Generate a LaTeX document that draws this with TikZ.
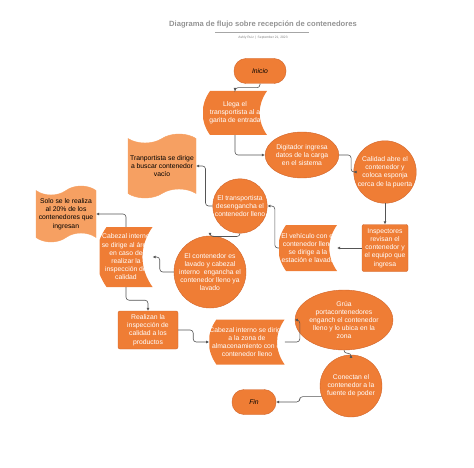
\documentclass[tikz,border=0pt]{standalone}
\usepackage{fontspec}
\setmainfont{Liberation Sans}
\usetikzlibrary{shapes.geometric,shapes.symbols,arrows.meta}
\definecolor{naranja}{HTML}{EF7D35}
\definecolor{naranjaborde}{HTML}{D0642A}
\definecolor{naranjaclaro}{HTML}{F6A062}
\definecolor{gris}{HTML}{555555}
\tikzset{
  texto/.style={align=center, font=\fontsize{6.8}{8.2}\selectfont, inner sep=0pt},
  caja/.style={texto, draw=naranjaborde, fill=naranja, text=white},
  extremo/.style={caja, rounded corners=12pt, text=black, font=\fontsize{6.8}{8}\selectfont\itshape, minimum height=25pt},
  bloque/.style={caja, rounded corners=2pt},
  elipse/.style={caja, ellipse},
  circulo/.style={caja, circle},
  almacen/.style={texto, text=white, path picture={
      \fill[naranja] ([xshift=7pt]path picture bounding box.north west)
        -- (path picture bounding box.north east)
        to[bend right=35] (path picture bounding box.south east)
        -- ([xshift=7pt]path picture bounding box.south west)
        to[bend left=35] cycle;}},
  bandera/.style={texto, tape, tape bend top=in and out, tape bend bottom=in and out,
      tape bend height=9pt, draw=naranjaclaro, fill=naranjaclaro, text=black},
  flecha/.style={draw=gris, line width=0.6pt, rounded corners=3pt, -{Latex[length=3pt,width=3pt]}}
}
\begin{document}
\begin{tikzpicture}[x=1pt, y=-1pt]
  \useasboundingbox (0,0) rectangle (474,468);
  % titulo
  \node (titulo) at (263,25) {\fontsize{7.6}{8}\selectfont\bfseries\color{gray!85}Diagrama de flujo sobre recepción de contenedores};
  \draw[gray!70, line width=0.4pt] (215,32.5) -- (309,32.5);
  \node (autor) at (263,37.5) {\fontsize{3.3}{4}\selectfont\color{gray}Ashly Ruiz \,|\, September 21, 2023};

  % nodos
  \node[extremo, minimum width=52pt] (inicio) at (260,71) {Inicio};
  \node[almacen, minimum width=64pt, minimum height=44pt] (llega) at (235,113) {Llega el\\transportista al a\\garita de entrada};
  \node[elipse, minimum width=60pt, minimum height=46pt] (digitador) at (302,155) {Digitador ingresa\\datos de la carga\\en el sistema};
  \node[circulo, minimum size=60pt] (calidad) at (385,172) {Calidad abre el\\contenedor y\\coloca esponja\\cerca de la puerta};
  \node[bloque, minimum width=46pt, minimum height=47pt] (inspectores) at (385,248) {Inspectores\\revisan el\\contenedor y\\el equipo que\\ingresa};
  \node[almacen, minimum width=58pt, minimum height=46pt] (vehiculo) at (308,248) {El vehículo con el\\contenedor lleno\\se dirige a la\\estación e lavado};
  \node[circulo, minimum size=54pt] (desengancha) at (240,206) {El transportista\\desengancha el\\contenedor lleno};
  \node[bandera, minimum width=68pt, minimum height=64pt] (vacio) at (162,166) {Tranportista se dirige\\a buscar contenedor\\vacío};
  \node[circulo, minimum size=66pt] (lavado) at (210,272) {El contenedor es\\lavado y cabezal\\interno\ \ engancha el\\contenedor lleno ya\\lavado};
  \node[almacen, minimum width=53pt, minimum height=60pt] (cabezalarea) at (126,257) {Cabezal interno\\se dirige al área\\en caso de\\realizar la\\inspección de\\calidad};
  \node[bandera, minimum width=60pt, minimum height=56pt] (solo) at (66,214) {Solo se le realiza\\al 20\% de los\\contenedores que\\ingresan};
  \node[bloque, minimum width=60pt, minimum height=38pt] (realizan) at (148,330) {Realizan la\\inspección de\\calidad a los\\productos};
  \node[almacen, minimum width=74pt, minimum height=45pt] (cabezalzona) at (247,342) {Cabezal interno se dirige\\a la zona de\\almacenamiento con el\\contenedor lleno};
  \node[elipse, minimum width=72pt, minimum height=60pt] (grua) at (344,320) {Grúa\\portacontenedores\\enganch el contenedor\\lleno y lo ubica en la\\zona};
  \node[circulo, minimum size=62pt] (conectan) at (351,386) {Conectan el\\contenedor a la\\fuente de poder};
  \node[extremo, minimum width=44pt] (fin) at (254,402) {Fin};

  % conectores
  \draw[flecha] (inicio.south) -- ++(0,4) -| (llega.north);
  \draw[flecha] (llega.south) |- (digitador.west);
  \draw[flecha] (digitador.east) -- ++(12,0) |- (calidad.west);
  \draw[flecha] (calidad.south) -- (inspectores.north);
  \draw[flecha] (inspectores.west) -- (vehiculo.east);
  \draw[flecha] (vehiculo.west) -- ++(-4,0) |- (desengancha.east);
  \draw[flecha] (desengancha.west) -- ++(-7,0) |- (vacio.east);
  \draw[flecha] (desengancha.south) -- ++(0,3) -| (lavado.north);
  \draw[flecha] (lavado.west) -- ++(-14,0) |- (cabezalarea.east);
  \draw[flecha] (cabezalarea.north) |- (solo.east);
  \draw[flecha] (cabezalarea.south) -- ++(0,13) -| (realizan.north);
  \draw[flecha] (realizan.east) -- ++(15,0) |- (cabezalzona.west);
  \draw[flecha] (cabezalzona.east) -- ++(15,0) |- (grua.west);
  \draw[flecha] (grua.south) -- ++(0,3) -| (conectan.north);
  \draw[flecha] (conectan.200) -- ++(-22,0) |- (fin.east);
\end{tikzpicture}
\end{document}
